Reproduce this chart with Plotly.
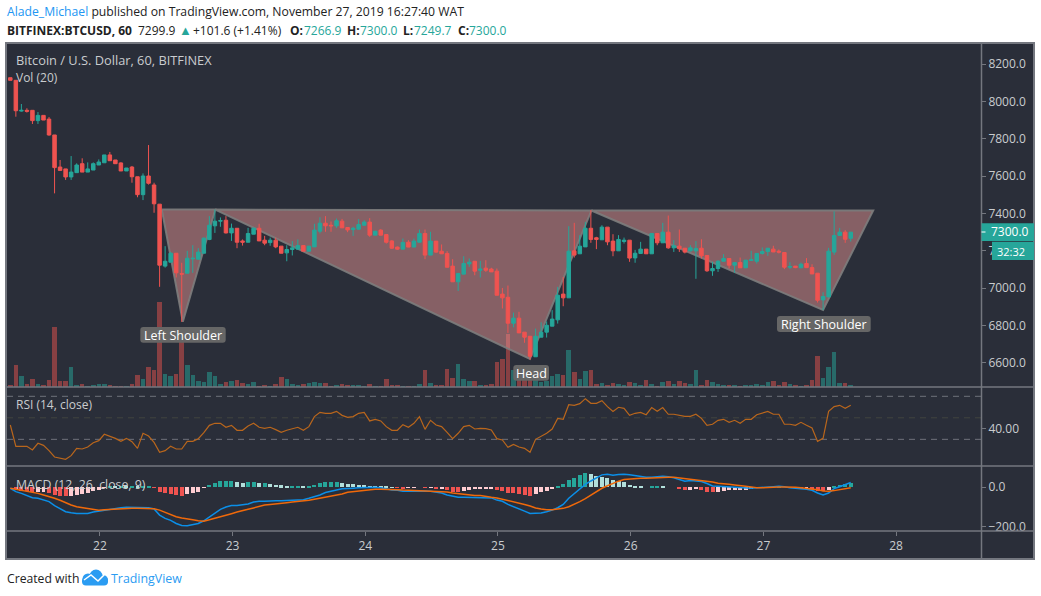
import plotly.graph_objects as go

opens = [8128,8114,7949,7953,7953,7898,7926,7906,7821,7649,
7639,7596,7619,7667,7622,7633,7660,7672,7714,7687,
7671,7628,7649,7597,7501,7601,7553,7450,7118,7139,
7187,7078,7080,7157,7155,7187,7261,7334,7359,7364,
7296,7321,7253,7246,7289,7321,7257,7244,7257,7225,
7189,7207,7209,7228,7198,7221,7305,7348,7337,7334,
7359,7325,
7314,7316,7337,7354,7284,7311,7287,7253,7220,7209,
7246,7220,7246,7293,7177,7252,7198,7186,7118,7034,
7075,7130,7144,7096,7107,7102,7091,6968,6951,6812,
6839,6764,6742,6632,6737,6764,6796,6830,6968,6948,
7200,7184,7221,7321,7270,7259,7327,7252,7200,7250,
7257,7162,7186,7209,7184,7293,7243,7300,7216,7225,
7214,
7200,7200,7214,7175,7093,7105,7144,7159,7123,7137,
7109,7148,7144,7186,7196,7209,7198,7191,7112,7118,
7109,7132,7110,7080,6937,6953,7193,7282,7300,7266.9]

highs = [8128,8114,7987,7964,7953,7944,7926,7917,7821,7687,
7639,7708,7669,7696,7674,7674,7690,7714,7730,7687,
7675,7644,7655,7597,7615,7767,7565,7450,7225,7194,
7187,7136,7200,7230,7214,7271,7386,7421,7379,7386,
7346,7321,7261,7323,7325,7345,7280,7271,7271,7225,
7230,7252,7261,7228,7225,7345,7380,7386,7357,7373,
7371,7325,
7329,7370,7364,7375,7307,7316,7287,7257,7223,7266,
7257,7266,7314,7314,7302,7252,7234,7198,7155,7082,
7171,7159,7144,7146,7150,7109,7105,7001,7014,6869,
6873,6764,6742,6783,6817,6821,6882,7007,7060,7332,
7350,7284,7355,7418,7275,7337,7327,7289,7284,7271,
7257,7205,7248,7209,7293,7293,7350,7389,7257,7314,
7214,
7230,7252,7262,7175,7141,7150,7182,7159,7139,7164,
7150,7200,7186,7218,7214,7227,7207,7191,7139,7118,
7137,7161,7128,7080,6978,7216,7412,7323,7311,7300]

lows = [8114,7919,7946,7941,7880,7880,7901,7817,7508,7631,
7580,7580,7619,7622,7622,7633,7660,7672,7683,7667,
7628,7628,7565,7487,7472,7555,7404,7007,7110,7139,
7057,6819,7080,7082,7155,7187,7257,7296,7329,7293,
7253,7214,7228,7246,7289,7253,7230,7227,7214,7187,
7144,7175,7207,7198,7198,7221,7293,7302,7302,7323,
7323,7300,
7280,7314,7337,7275,7284,7284,7239,7211,7205,7209,
7220,7220,7246,7155,7177,7189,7184,7110,7034,6985,
7075,7114,7069,7057,7087,7087,6962,6891,6760,6790,
6760,6707,6617,6632,6737,6735,6796,6810,6903,6948,
7164,7184,7221,7243,7209,7259,7230,7171,7200,7239,
7141,7136,7186,7184,7184,7230,7243,7211,7194,7194,
7186,
7196,7050,7159,7087,7066,7087,7144,7105,7082,7109,
7109,7148,7132,7180,7173,7193,7186,7102,7102,7107,
7107,7110,7076,6923,6882,6953,7178,7282,7243,7249.7]

closes = [8114,7951,7953,7948,7898,7926,7901,7821,7646,7631,
7596,7622,7660,7622,7639,7667,7676,7714,7683,7667,
7628,7644,7597,7501,7601,7562,7452,7123,7144,7187,
7082,7075,7160,7160,7193,7268,7337,7359,7362,7296,
7321,7246,7246,7293,7321,7253,7241,7257,7221,7187,
7207,7216,7228,7198,7225,7311,7348,7334,7334,7361,
7323,7312,
7321,7341,7354,7284,7305,7284,7246,7214,7209,7245,
7220,7252,7293,7177,7252,7193,7184,7112,7034,7078,
7132,7139,7091,7102,7096,7087,6962,6948,6812,6839,
6760,6737,6635,6742,6764,6801,6834,6962,6948,7198,
7177,7225,7321,7261,7261,7327,7248,7200,7261,7257,
7161,7187,7209,7184,7293,7243,7300,7216,7227,7211,
7193,
7216,7212,7173,7093,7105,7144,7159,7123,7137,7109,
7150,7152,7186,7196,7214,7194,7193,7112,7116,7110,
7128,7110,7076,6935,6955,7198,7282,7300,7262,7300]

volumes = [70,670,340,100,250,100,70,220,1810,190,
190,610,70,100,40,70,100,100,70,40,
40,40,100,370,250,610,520,2560,400,340,
400,1400,670,370,190,160,460,340,100,160,
190,220,130,100,160,40,70,40,100,310,
250,100,70,100,130,160,130,130,40,70,
100,70,
70,70,40,100,40,40,250,70,70,40,
40,40,100,520,130,70,70,550,280,700,
250,190,190,70,70,100,760,850,1600,520,
400,270,300,220,160,190,340,400,370,1120,
460,250,490,520,100,130,70,130,100,70,
160,130,70,220,100,40,160,190,100,190,
130,
100,520,70,220,160,100,70,70,70,40,
70,70,100,70,160,190,70,160,100,70,
40,70,220,940,280,610,1060,130,130,70]

rsi = [43.3,23.5,23.5,23.5,20.1,26.3,24.4,19.5,13.6,12.6,
11.4,14.8,21.6,21.0,22.9,26.9,28.8,34.7,33.1,30.9,
28.1,30.9,27.8,21.6,35.6,33.1,27.2,17.9,19.5,23.5,
21.0,21.0,28.1,28.1,30.6,36.2,43.0,44.9,44.9,41.2,
43.0,38.4,38.4,42.4,44.9,41.2,40.2,41.2,39.0,36.5,
38.4,39.6,41.2,38.4,41.8,51.1,55.1,54.2,54.2,56.0,
52.3,50.5,
51.1,54.2,55.1,47.1,48.6,47.1,41.8,38.4,38.4,43.6,
41.2,44.9,51.1,39.3,47.7,43.3,41.8,36.5,30.6,35.6,
41.8,43.0,39.6,40.2,39.9,38.7,30.6,29.4,22.6,25.3,
22.9,21.6,17.9,30.0,32.5,35.6,39.6,49.5,48.6,62.2,
61.6,63.2,67.8,63.5,63.5,66.0,60.4,56.0,59.8,58.8,
52.3,54.2,55.1,52.9,59.5,56.0,59.5,53.3,53.3,52.3,
51.4,
51.4,53.3,49.5,43.0,44.0,47.7,48.6,45.8,47.7,44.9,
48.6,48.6,52.9,54.2,56.0,53.3,53.3,44.0,44.0,43.0,
45.8,43.0,40.5,28.1,30.9,56.0,60.4,61.6,58.8,61.6]

macd = [-5,-22,-31,-42,-53,-56,-63,-73,-93,-110,
-124,-129,-133,-133,-133,-126,-121,-116,-112,-109,
-104,-102,-102,-105,-104,-104,-110,-141,-158,-168,
-184,-194,-195,-190,-184,-170,-150,-129,-112,-100,
-93,-93,-90,-85,-75,-71,-71,-68,-68,-68,
-66,-66,-63,-63,-56,-48,-39,-27,-22,-14,
-8,-8,
-5,-3,-2,0,0,-2,-8,-14,-15,-20,
-20,-19,-19,-19,-20,-24,-29,-39,-46,-51,
-51,-51,-51,-51,-51,-54,-65,-71,-87,-97,
-107,-121,-133,-133,-131,-124,-116,-104,-87,-56,
-31,-10,15,32,49,63,66,61,65,66,
63,58,53,51,51,53,56,53,48,39,
31,
34,32,29,19,7,5,3,2,-2,-3,
-5,-5,-3,0,3,3,5,3,-3,-7,
-8,-10,-15,-29,-39,-29,-7,3,15,24]

signal = [-5,-10,-14,-20,-25,-31,-39,-46,-56,-66,
-80,-90,-99,-104,-109,-114,-117,-114,-112,-112,
-110,-107,-107,-107,-107,-107,-109,-116,-127,-138,
-150,-156,-162,-165,-170,-172,-165,-158,-151,-141,
-134,-126,-117,-112,-105,-97,-90,-87,-85,-82,
-78,-75,-73,-70,-66,-61,-56,-51,-46,-41,
-34,-25,
-22,-19,-15,-12,-10,-10,-10,-10,-12,-14,
-15,-15,-17,-17,-19,-20,-20,-24,-29,-32,
-36,-41,-42,-42,-48,-51,-54,-60,-66,-73,
-80,-87,-95,-105,-110,-114,-114,-112,-107,-99,
-87,-73,-58,-39,-20,-5,8,20,31,39,
42,44,46,46,48,49,51,51,51,48,
44,
42,39,36,32,27,20,19,15,12,7,
5,2,-2,-2,0,2,2,2,2,0,
-3,-5,-7,-12,-19,-20,-17,-12,-7,-2]

histogram = [0,-7,-19,-20,-24,-23,-22,-29,-37,-42,
-46,-44,-37,-32,-27,-17,-12,-2,3,2,
3,2,5,3,3,3,-1,-26,-31,-32,
-39,-42,-34,-27,-22,-1,14,20,32,34,
34,27,24,26,29,20,20,19,14,10,
8,8,8,7,8,12,22,26,26,26,
22,19,
17,14,12,8,7,5,2,1,-3,-5,
-3,-3,0,-3,-3,-5,-5,-12,-24,-25,
-17,-14,-10,-9,-7,-6,-12,-17,-27,-28,
-34,-37,-42,-34,-26,-17,-5,8,19,39,
49,60,70,65,58,54,49,39,31,29,
12,8,5,0,2,3,2,0,0,-7,
-12,
-12,-9,-12,-22,-23,-22,-17,-16,-15,-14,
-12,-10,-1,-1,-1,0,1,0,-1,-3,
-7,-5,-12,-20,-20.5,-12,2,14,17,24]

day_labels = ["22", "23", "24", "25", "26", "27", "28"]
day_bars = [16.2, 40.2, 64.2, 88.2, 112.2, 136.2, 160.2]
price_ticks = [6600, 6800, 7000, 7200, 7400, 7600, 7800, 8000, 8200]
rsi_ticks = [40]
macd_ticks = [-200, 0]
rsi_bands = [70, 30]
rsi_mid = [50]

pattern_bars = [27.4, 31.2, 37.07, 27.4, None, 37.07, 93.98, 105.1, 37.07, None, 105.1, 147.0, 156.06, 105.1]
pattern_prices = [7421, 6820, 7421, 7421, None, 7421, 6620, 7416, 7421, None, 7416, 6883, 7416, 7416]

assert all(len(a) == 153 for a in (opens, highs, lows, closes, volumes, rsi, macd, signal, histogram))
bars = list(range(len(opens)))

UP, DOWN = "#26a69a", "#ef5350"
BG, EDGE, TEXT = "#2a2e39", "#74777f", "#c9cccf"
FONT = "Open Sans"
W, H = 1041, 596
L, R, T, B = 7, 981, 43, 531


def xp(x):
    return (x - L) / (R - L)


def yp(y):
    return (B - y) / (B - T)


def box(x0, y0, x1, y1, **kw):
    return dict(type="rect", xref="paper", yref="paper", x0=xp(x0), x1=xp(x1), y0=yp(y0), y1=yp(y1), **kw)


def rounded(x0, y0, x1, y1, r=3):
    X, Y = xp, yp
    p = (f"M {X(x0+r)},{Y(y0)} L {X(x1-r)},{Y(y0)} Q {X(x1)},{Y(y0)} {X(x1)},{Y(y0+r)} "
         f"L {X(x1)},{Y(y1-r)} Q {X(x1)},{Y(y1)} {X(x1-r)},{Y(y1)} "
         f"L {X(x0+r)},{Y(y1)} Q {X(x0)},{Y(y1)} {X(x0)},{Y(y1-r)} "
         f"L {X(x0)},{Y(y0+r)} Q {X(x0)},{Y(y0)} {X(x0+r)},{Y(y0)} Z")
    return dict(type="path", xref="paper", yref="paper", path=p, fillcolor="#666666", line_width=0, layer="above")


def text(x, y, s, size=12, color=TEXT, anchor="left", **kw):
    return dict(xref="paper", yref="paper", x=xp(x), y=yp(y), text=s, showarrow=False, xanchor=anchor,
                yanchor="middle", font=dict(family=FONT, size=size, color=color), borderpad=0, **kw)


fig = go.Figure()

vol_colors = ["rgba(239,83,80,0.48)" if c < o else "rgba(38,166,154,0.5)" for o, c in zip(opens, closes)]
fig.add_trace(go.Bar(x=bars, y=volumes, width=0.82, marker=dict(color=vol_colors, line_width=0), yaxis="y"))

fig.add_trace(go.Scatter(x=pattern_bars, y=pattern_prices, mode="lines", fill="toself",
                         fillcolor="rgba(236,150,150,0.48)", line=dict(color="rgba(125,125,125,0.9)", width=2),
                         yaxis="y2"))

fig.add_trace(go.Candlestick(x=bars, open=opens, high=highs, low=lows, close=closes, yaxis="y3", whiskerwidth=0,
                             increasing=dict(line=dict(color=UP, width=1), fillcolor=UP),
                             decreasing=dict(line=dict(color=DOWN, width=1), fillcolor=DOWN)))

fig.add_trace(go.Scatter(x=bars, y=rsi, mode="lines", line=dict(color="#b9661c", width=1.2), yaxis="y4"))

hist_colors = []
for i, v in enumerate(histogram):
    prev = histogram[i - 1] if i else 0
    if v >= 0:
        hist_colors.append(UP if v >= prev else "#b2dfdb")
    else:
        hist_colors.append(DOWN if v < prev else "#ffcdd2")
fig.add_trace(go.Bar(x=bars, y=histogram, width=0.72, marker=dict(color=hist_colors, line_width=0), yaxis="y5"))
fig.add_trace(go.Scatter(x=bars, y=macd, mode="lines", line=dict(color="#0b8fe8", width=1.5), yaxis="y5"))
fig.add_trace(go.Scatter(x=bars, y=signal, mode="lines", line=dict(color="#f0690a", width=1.5), yaxis="y5"))

shapes = [
    box(6, 43, 1034, 559, fillcolor=BG, line=dict(color=EDGE, width=2), layer="below"),
]
for level in rsi_bands:
    shapes.append(dict(type="line", xref="x", yref="y4", x0=-0.6, x1=175.56, y0=level, y1=level,
                       line=dict(color="#6f727b", width=1, dash="6px,5px"), layer="below"))
for level in rsi_mid:
    shapes.append(dict(type="line", xref="x", yref="y4", x0=-0.6, x1=175.56, y0=level, y1=level,
                       line=dict(color="#42453f", width=1, dash="6px,5px"), layer="below"))
for y in (387, 466, 531):
    shapes.append(dict(type="line", xref="paper", yref="paper", x0=xp(6), x1=xp(1034), y0=yp(y), y1=yp(y),
                       line=dict(color=EDGE, width=1.5), layer="above"))
shapes.append(dict(type="line", xref="paper", yref="paper", x0=xp(981.5), x1=xp(981.5), y0=yp(43), y1=yp(559),
                   line=dict(color=EDGE, width=1.5), layer="above"))
shapes.append(box(981.5, 223.3, 1034, 241, fillcolor=UP, line_width=0, layer="above"))
shapes.append(box(992, 241.7, 1034, 260, fillcolor=UP, line_width=0, layer="above"))
shapes.append(dict(type="line", xref="paper", yref="paper", x0=xp(981.5), x1=xp(985.5), y0=yp(232), y1=yp(232),
                   line=dict(color="white", width=1), layer="above"))
shapes.append(rounded(140.3, 327, 225.7, 342.7))
shapes.append(rounded(513.3, 365, 549, 380.7))
shapes.append(rounded(777, 316, 870.7, 332))

# logo
LOGO = "#2b9cf2"
shapes.append(rounded(82, 577, 108, 585.5, r=4))
shapes[-1]["fillcolor"] = LOGO
for cx, cy, r in ((88, 579, 5.5), (96, 576, 6.5), (103, 580, 5)):
    shapes.append(dict(type="circle", xref="paper", yref="paper", x0=xp(cx - r), x1=xp(cx + r), y0=yp(cy - r),
                       y1=yp(cy + r), fillcolor=LOGO, line_width=0, layer="above"))
shapes.append(dict(type="path", xref="paper", yref="paper",
                   path=f"M {xp(84)},{yp(580)} L {xp(91)},{yp(575)} L {xp(98)},{yp(581)} L {xp(105)},{yp(574)}",
                   line=dict(color="white", width=1.5), layer="above"))

G = UP
DARK = "#222222"
header1 = ('<span style="color:#2196f3">Alade_Michael</span> published on TradingView.com, '
           'November 27, 2019 16:27:40 WAT')

annotations = [
    text(6.2, 12, header1, 12.2, DARK),
    text(6.2, 30, "<b>BITFINEX:BTCUSD, 60</b>", 12, DARK),
    text(137, 30, "7299.9", 12, DARK),
    text(177.5, 30, "▲", 13, G),
    text(192, 30, "+101.6 (+1.41%)", 12, DARK),
    text(289, 30, "<b>O:</b>", 12, DARK),
    text(302.7, 30, "7266.9", 12, G),
    text(345.7, 30, "<b>H:</b>", 12, DARK),
    text(359.3, 30, "7300.0", 12, G),
    text(402.3, 30, "<b>L:</b>", 12, DARK),
    text(413.3, 30, "7249.7", 12, G),
    text(456.7, 30, "<b>C:</b>", 12, DARK),
    text(468.3, 30, "7300.0", 12, G),
    text(14.5, 60, "Bitcoin / U.S. Dollar, 60, BITFINEX", 12.8),
    text(14.5, 77, "Vol (20)", 12),
    text(14.5, 404, "RSI (14, close)", 12),
    text(14.5, 484, "MACD (12, 26, close, 9)", 12.3),
    text(183, 335, "Left Shoulder", 12.5, "white", "center"),
    text(531, 373, "Head", 12.5, "white", "center"),
    text(823.8, 324, "Right Shoulder", 12.5, "white", "center"),
    text(990, 232, "7300.0", 12, "white"),
    text(996, 251, "32:32", 11, "white"),
    text(6, 578, "Created with", 12.2, DARK),
    text(109.5, 578, "TradingView", 12.4, LOGO),
]

main_low = (B - 387) / (B - T)
rsi_low = (B - 466) / (B - T)

tick_style = dict(ticks="outside", ticklen=4, tickcolor=EDGE, tickwidth=1, showgrid=False, zeroline=False,
                  showline=False, side="right", anchor="x", tickfont=dict(family=FONT, size=12, color=TEXT),
                  ticklabelposition="outside")

fig.update_layout(
    width=W, height=H, autosize=False,
    margin=dict(l=L, r=W - R, t=T, b=H - B, pad=0),
    paper_bgcolor="white", plot_bgcolor="rgba(0,0,0,0)",
    showlegend=False, barmode="overlay", boxgap=0.1, bargap=0,
    hovermode=False,
    shapes=shapes, annotations=annotations,
    xaxis=dict(range=[-0.6, 175.56], anchor="y5", tickmode="array", tickvals=day_bars, ticktext=day_labels,
               ticks="outside", ticklen=4, tickcolor=EDGE, showgrid=False, zeroline=False,
               rangeslider=dict(visible=False), tickfont=dict(family=FONT, size=12, color=TEXT)),
    yaxis=dict(domain=[main_low, 1], range=[0, 10320], anchor="x", side="right", showgrid=False, zeroline=False,
               showticklabels=False, ticks=""),
    yaxis2=dict(domain=[main_low, 1], range=[6470, 8314], overlaying="y", anchor="x", side="right",
                showgrid=False, zeroline=False, showticklabels=False, ticks=""),
    yaxis3=dict(domain=[main_low, 1], range=[6470, 8314], overlaying="y", tickmode="array", tickvals=price_ticks,
                tickformat=".1f", **tick_style),
    yaxis4=dict(domain=[rsi_low, main_low], range=[5.2, 78.65], tickmode="array", tickvals=rsi_ticks,
                tickformat=".2f", **tick_style),
    yaxis5=dict(domain=[0, rsi_low], range=[-222, 108], tickmode="array", tickvals=macd_ticks,
                tickformat=".1f", **tick_style),
)

fig.write_html("out.html", config=dict(displayModeBar=False),
               post_script="document.body.style.margin='0';document.body.style.overflow='hidden';")
